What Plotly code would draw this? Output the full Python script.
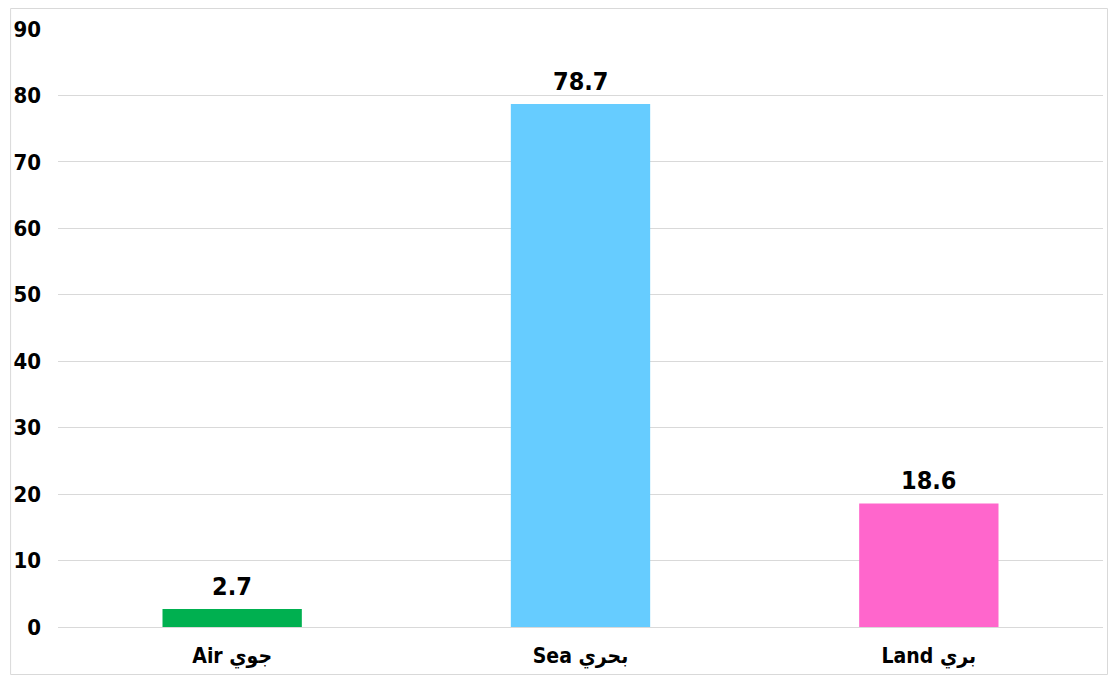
import plotly.graph_objects as go

categories = ["Air جوي", "Sea بحري", "Land بري"]
values = [2.7, 78.7, 18.6]
colors = ["#00b050", "#66ccff", "#ff66cc"]
tick_vals = [0, 10, 20, 30, 40, 50, 60, 70, 80, 90]

FONT = "DejaVu Sans Condensed, Liberation Sans Narrow, Arial Narrow, sans-serif"

OFF = 8  # page body margin
W, H = 1116 - 2 * OFF, 683 - 2 * OFF
# plot area in window pixels: x 56..1103, y 29..627
L = 56 - OFF
R = W - (1103 - OFF)
T = 29 - OFF
B = H - (627 - OFF)
pw, ph = W - L - R, H - T - B

fig = go.Figure(go.Bar(
    x=categories, y=values,
    marker=dict(color=colors, line=dict(width=0)),
    width=0.4,
    cliponaxis=False,
    hoverinfo="x+y",
))

for c, v in zip(categories, values):
    fig.add_annotation(x=c, y=v, text=f"<b>{v:.1f}</b>", showarrow=False,
                       yanchor="bottom", yshift=6,
                       font=dict(family=FONT, size=25, color="#000000"))

fig.update_layout(
    width=W, height=H,
    margin=dict(l=L, r=R, t=T, b=B),
    paper_bgcolor="white", plot_bgcolor="white",
    showlegend=False,
    font=dict(family=FONT, color="#000000"),
    xaxis=dict(
        showgrid=False, zeroline=False, showline=False,
        tickfont=dict(family=FONT, size=21, color="#000000"),
        ticks="", ticklabelstandoff=14,
        tickvals=categories,
        ticktext=[f"<b>{c}</b>" for c in categories],
    ),
    yaxis=dict(
        range=[0, 90], tickvals=tick_vals,
        ticktext=[f"<b>{t}</b>" for t in tick_vals],
        showgrid=True, gridcolor="#d9d9d9", gridwidth=1,
        zeroline=True, zerolinecolor="#d9d9d9", zerolinewidth=1,
        showline=False, ticks="",
        tickfont=dict(family=FONT, size=22, color="#000000"),
        ticklabelstandoff=16,
    ),
)

# outer frame of the chart, kept just inside the figure edges
x0 = (0.5 - L) / pw
x1 = (W - 0.5 - L) / pw
y1 = (H - B - 0.5) / ph
y0 = (H - B - (H - 0.5)) / ph
fig.add_shape(type="rect", xref="paper", yref="paper",
              x0=x0, x1=x1, y0=y0, y1=y1,
              line=dict(color="#d9d9d9", width=1), fillcolor="rgba(0,0,0,0)",
              layer="below")

fig.write_html("out.html")
